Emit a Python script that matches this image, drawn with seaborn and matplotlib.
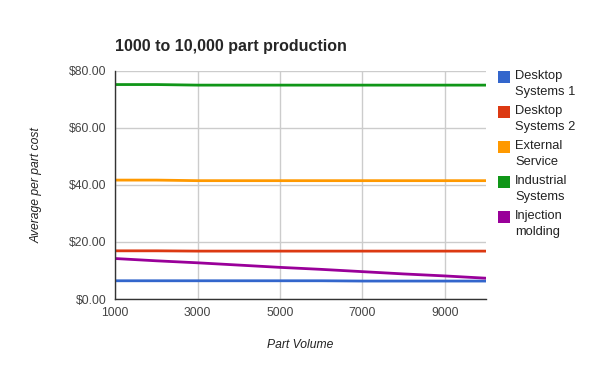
import pandas as pd
import seaborn as sns
import matplotlib.pyplot as plt
from matplotlib.patches import Rectangle

volume = [1000, 2000, 3000, 4000, 5000, 6000, 7000, 8000, 9000, 10000]
desktop_1 = [6.4, 6.4, 6.4, 6.4, 6.4, 6.4, 6.3, 6.3, 6.3, 6.3]
desktop_2 = [16.9, 16.9, 16.8, 16.8, 16.8, 16.8, 16.8, 16.8, 16.8, 16.8]
external = [41.7, 41.7, 41.5, 41.5, 41.5, 41.5, 41.5, 41.5, 41.5, 41.5]
industrial = [75.2, 75.2, 75.0, 75.0, 75.0, 75.0, 75.0, 75.0, 75.0, 75.0]
injection = [14.2, 13.4, 12.7, 11.9, 11.1, 10.4, 9.6, 8.8, 8.1, 7.3]

names = ["Desktop Systems 1", "Desktop Systems 2", "External Service",
         "Industrial Systems", "Injection molding"]
legend_labels = ["Desktop\nSystems 1", "Desktop\nSystems 2", "External\nService",
                 "Industrial\nSystems", "Injection\nmolding"]
colors = ["#3366cc", "#dc3912", "#ff9900", "#109618", "#990099"]

df = pd.DataFrame({"volume": volume, names[0]: desktop_1, names[1]: desktop_2,
                   names[2]: external, names[3]: industrial, names[4]: injection})
long = df.melt(id_vars="volume", var_name="series", value_name="cost")

sns.set_style("white")
plt.rcParams["font.family"] = ["Arial", "Liberation Sans", "DejaVu Sans"]

W, H = 600, 371
fig = plt.figure(figsize=(W / 100, H / 100), dpi=100)
ax = fig.add_axes([0.192, 0.194, 0.618, 0.615])

sns.lineplot(data=long, x="volume", y="cost", hue="series", palette=colors,
             hue_order=names, linewidth=2, ax=ax, legend=False)

ax.set_xlim(1000, 10000)
ax.set_ylim(0, 80)
ax.set_xticks([1000, 3000, 5000, 7000, 9000])
ax.set_yticks([0, 20, 40, 60, 80])
ax.set_yticklabels(["$0.00", "$20.00", "$40.00", "$60.00", "$80.00"])
ax.grid(True, color="#cccccc", linewidth=1)
ax.set_axisbelow(True)
for s in ["top", "right"]:
    ax.spines[s].set_visible(False)
for s in ["left", "bottom"]:
    ax.spines[s].set_color("#333333")
    ax.spines[s].set_linewidth(1)
ax.tick_params(length=0, labelsize=8.7, colors="#444444", pad=6)

ax.set_xlabel("Part Volume", fontstyle="italic", fontsize=8.7, color="#222222", labelpad=14)
ax.set_ylabel("Average per part cost", fontstyle="italic", fontsize=8.7,
              color="#222222", labelpad=19)

fig.text(0.192, 0.876, "1000 to 10,000 part production", fontsize=11.5,
         fontweight="bold", ha="left", va="center")

# legend drawn by hand: square aligned with the first text line
for i, (lab, c) in enumerate(zip(legend_labels, colors)):
    top = 71 + 35 * i
    fig.patches.append(Rectangle((498 / W, 1 - (top + 12) / H), 12 / W, 12 / H,
                                 transform=fig.transFigure, facecolor=c,
                                 edgecolor="none"))
    fig.text(515 / W, 1 - (top - 1) / H, lab, fontsize=9.3, color="#222222",
             ha="left", va="top", linespacing=1.42)

fig.savefig("out.png", dpi=100)
